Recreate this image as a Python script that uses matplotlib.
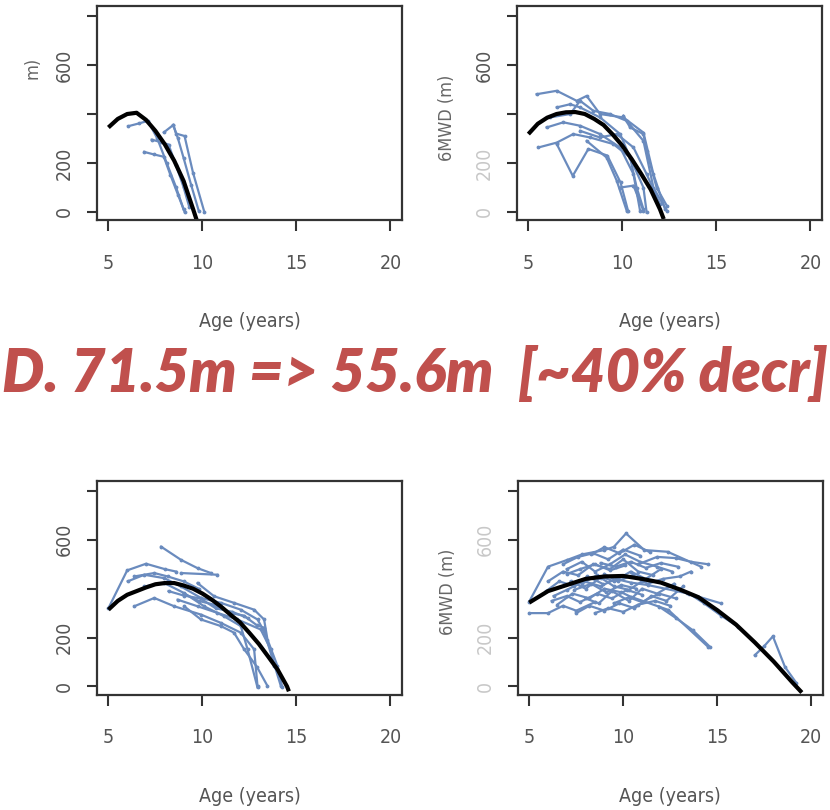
import matplotlib
matplotlib.use('Agg')
import matplotlib.pyplot as plt
from matplotlib import font_manager

# axis settings shared by the four panels
x_ticks = [5, 10, 15, 20]
y_ticks = [0, 200, 400, 600, 800]
y_tick_labels = ['0', '200', '', '600', '']
age_label = 'Age (years)'
walk_label = '6MWD (m)'
headline = 'D. 71.5m => 55.6m  [~40% decr]'

# panel A (top left): fitted curve + individual walks
fit_a_age = [5.0, 5.5, 6.0, 6.5, 7.0, 7.5, 8.0, 8.5, 9.0, 9.5, 9.7]
fit_a_val = [345, 380, 400, 405, 376, 331, 276, 209, 126, 12, -35]
walks_a = [
    ([6.05, 6.65, 7.1, 7.6, 8.1, 8.6, 9.0], [350, 362, 372, 300, 200, 100, 10]),
    ([6.9, 7.4, 7.95, 8.3, 8.7, 9.05], [245, 235, 225, 150, 70, 0]),
    ([7.3, 7.8, 8.2, 8.6, 9.0, 9.3], [295, 285, 275, 190, 100, 20]),
    ([7.95, 8.45, 8.6, 9.05, 9.5, 10.1], [325, 355, 320, 310, 160, 0]),
    ([8.45, 8.7, 9.0, 9.4, 9.8], [355, 300, 220, 110, 5]),
]

# panel B (top right)
fit_b_age = [5.0, 5.5, 6.0, 6.5, 7.0, 7.5, 8.0, 8.5, 9.0, 9.5, 10.0, 10.5, 11.0, 11.5, 12.0, 12.2]
fit_b_val = [318, 360, 385, 400, 407, 408, 400, 380, 355, 315, 270, 215, 155, 92, 10, -30]
walks_b = [
    ([5.44, 6.51, 7.57, 8.10, 8.81, 10.05, 11.12, 11.65, 12.27], [481, 495, 454, 474, 400, 386, 324, 154, 11]),
    ([5.53, 6.51, 7.39, 8.28, 9.52, 10.41, 11.12, 11.29], [263, 283, 318, 304, 277, 222, 99, -3]),
    ([6.51, 7.36, 8.19, 9.2, 9.9, 10.3], [277, 147, 257, 230, 120, 4]),
    ([5.97, 6.86, 7.75, 8.81, 9.88, 10.59, 10.94], [345, 366, 352, 318, 263, 154, 4]),
    ([6.15, 7.22, 7.75, 8.46, 9.34, 10.23, 11.12, 11.65, 12.36], [386, 400, 454, 413, 400, 372, 290, 99, 4]),
    ([7.75, 8.81, 9.70, 10.59, 11.29, 12.0], [331, 304, 318, 263, 154, 31]),
    ([8.10, 9.16, 9.70, 10.23], [290, 222, 127, 4]),
    ([10.05, 10.41, 11.12, 11.29, 11.82, 12.36], [393, 345, 318, 249, 99, 25]),
    ([9.88, 10.59, 11.12], [99, 107, 4]),
    ([6.51, 7.22, 7.75, 8.81, 9.88, 10.41, 10.76, 11.12], [427, 440, 427, 386, 318, 222, 99, 11]),
]

# panel C (bottom left)
fit_c_age = [5.0, 5.5, 6.0, 6.5, 7.0, 7.5, 8.0, 8.5, 9.0, 9.5, 10.0, 10.5, 11.0, 11.5, 12.0, 12.5, 13.0, 13.5, 14.0, 14.5, 14.6]
fit_c_val = [314, 350, 375, 390, 405, 418, 423, 423, 413, 400, 380, 355, 326, 293, 262, 219, 174, 122, 69, 0, -20]
walks_c = [
    ([5.0, 6.0, 7.0, 8.0, 8.6], [320, 475, 502, 480, 470]),
    ([6.38, 7.44, 8.5, 9.92, 10.98, 12.04, 12.75, 12.93], [328, 362, 328, 294, 260, 220, 152, 2]),
    ([7.80, 8.86, 9.74, 10.45], [572, 518, 484, 464]),
    ([8.86, 10.8], [464, 457]),
    ([6.03, 6.91, 7.97, 8.86, 9.92, 10.98, 12.04, 12.93, 13.28, 14.17], [430, 457, 443, 409, 362, 342, 314, 274, 226, 2]),
    ([6.91, 7.97, 9.03, 10.09, 11.15, 12.04, 12.4, 12.93], [409, 423, 382, 328, 287, 247, 152, -4]),
    ([9.03, 9.92, 10.98, 11.68, 12.22, 12.9, 13.46], [328, 274, 247, 220, 152, 80, 2]),
    ([9.74, 10.62, 11.68, 12.75, 13.28, 13.46, 13.99, 14.25], [423, 369, 342, 314, 274, 192, 84, -4]),
    ([8.68, 9.74, 10.8, 11.86, 13.1, 13.63, 13.81], [355, 328, 301, 274, 233, 152, 84]),
    ([6.38, 7.44, 8.15, 9.0, 9.8], [450, 464, 450, 430, 400]),
    ([9.0, 9.8, 10.6, 11.5, 12.2, 12.9, 13.3], [380, 350, 335, 300, 290, 250, 240]),
    ([8.2, 9.0, 9.9, 10.7, 11.6, 12.4], [390, 372, 360, 320, 305, 280]),
]

# panel D (bottom right)
fit_d_age = [5, 6, 7, 8, 9, 10, 11, 12, 13, 14, 15, 16, 17, 18, 19, 19.5]
fit_d_val = [343, 390, 415, 440, 450, 452, 440, 425, 397, 365, 312, 253, 180, 102, 16, -25]
walks_d = [
    ([5.0, 6.0, 7.0, 7.8, 9.0, 9.5, 10.15, 11.12, 12.36, 14.14], [347, 490, 517, 540, 558, 571, 626, 558, 551, 490]),
    ([5.0, 6.0, 6.8, 7.5, 8.5], [300, 300, 330, 310, 345]),
    ([6.0, 6.8, 7.6, 8.4, 9.3, 10.0, 10.8, 11.6], [430, 470, 455, 500, 480, 520, 470, 455]),
    ([6.3, 7.0, 7.9, 8.8, 9.6, 10.4, 11.3, 13.4, 15.2], [370, 395, 430, 410, 440, 425, 415, 381, 340]),
    ([6.5, 7.3, 8.2, 9.0, 9.9, 10.4, 12.4, 14.5], [335, 380, 360, 400, 385, 367, 313, 163]),
    ([7.0, 7.8, 8.5, 9.3, 10.1, 10.9, 11.8, 12.6], [480, 510, 470, 500, 540, 510, 490, 470]),
    ([7.5, 8.2, 9.0, 9.8, 10.6, 11.5, 12.3, 13.2], [300, 330, 310, 340, 320, 370, 350, 410]),
    ([7.8, 8.6, 9.5, 10.4, 11.2, 12.0], [420, 455, 430, 470, 440, 480]),
    ([8.0, 8.7, 9.4, 10.3, 11.0, 11.8, 12.7], [360, 340, 390, 350, 400, 380, 420]),
    ([6.8, 7.6, 8.4, 9.2, 10.0, 10.9], [500, 530, 545, 520, 560, 535]),
    ([8.3, 9.0, 9.8, 10.6, 11.4], [540, 570, 545, 580, 550]),
    ([10.8, 11.8, 12.8, 13.6, 14.5], [500, 530, 525, 510, 500]),
    ([9.0, 9.7, 10.5, 11.3, 12.1, 13.0, 13.6], [460, 430, 455, 420, 440, 450, 470]),
    ([7.2, 8.0, 8.8, 9.5, 10.3, 11.0], [430, 400, 445, 410, 395, 430]),
    ([5.9, 6.6, 7.4, 8.1, 8.9], [390, 430, 410, 450, 420]),
    ([8.5, 9.2, 10.0, 10.8, 11.7, 12.5], [300, 320, 305, 335, 350, 330]),
    ([9.5, 10.3, 11.0, 11.9, 12.8], [340, 365, 345, 380, 360]),
    ([7.0, 7.7, 8.5, 9.3, 10.1], [460, 480, 500, 475, 495]),
    ([11.9, 12.8, 13.7, 14.6], [327, 280, 230, 163]),
    ([13.5, 14.3, 15.2, 16.1], [380, 340, 290, 245]),
    ([17.0, 17.5, 17.96, 18.6, 19.2], [128, 165, 205, 80, 15]),
    ([6.2, 7.0, 7.7, 8.6, 9.4, 10.2, 11.0], [350, 370, 345, 380, 360, 395, 375]),
    ([8.8, 9.6, 10.4, 11.2, 12.0, 12.9], [505, 490, 510, 485, 505, 490]),
    ([7.4, 8.3, 9.1, 9.9, 10.7], [395, 420, 385, 415, 400]),
]

panels = [
    # left, bottom (fig fraction), fitted curve, walks, which side
    (0.117, 0.728, fit_a_age, fit_a_val, walks_a, 'left'),
    (0.623, 0.728, fit_b_age, fit_b_val, walks_b, 'right'),
    (0.117, 0.142, fit_c_age, fit_c_val, walks_c, 'left'),
    (0.624, 0.142, fit_d_age, fit_d_val, walks_d, 'right'),
]

blue = '#6A8BBE'
frame = '#333333'
label_grey = '#555555'
# R-like narrow labels
small = font_manager.FontProperties(family='DejaVu Sans', stretch='condensed', size=14)
small_lab = font_manager.FontProperties(family='DejaVu Sans', stretch='condensed', size=13)

fig = plt.figure(figsize=(8.3, 8.1), dpi=100)

for i, (left, bottom, fit_age, fit_val, walks, side) in enumerate(panels):
    ax = fig.add_axes([left, bottom, 0.367, 0.264])
    for ages, vals in walks:
        ax.plot(ages, vals, color=blue, lw=1.6, marker='.', ms=3.5)
    ax.plot(fit_age, fit_val, color='black', lw=3.0, solid_capstyle='butt')

    ax.set_xlim(4.4, 20.6)
    ax.set_ylim(-35, 840)
    ax.set_xticks(x_ticks)
    ax.set_xticklabels([str(t) for t in x_ticks], fontproperties=small, color=label_grey)
    ax.set_yticks(y_ticks)
    ax.set_yticklabels(y_tick_labels, fontproperties=small, color=label_grey,
                       rotation=90, va='center')
    ax.tick_params(axis='x', direction='out', length=8, width=1.5, color=frame, pad=16)
    ax.tick_params(axis='y', direction='out', length=7.5, width=1.5, color=frame, pad=9)
    for sp in ax.spines.values():
        sp.set_color(frame)
        sp.set_linewidth(1.6)

    if side == 'right':
        # the right panels show their y labels only faintly
        for lab in ax.get_yticklabels():
            lab.set_color('#c8c8c8')
        if i == 1:
            ax.get_yticklabels()[3].set_color(label_grey)
        ax.text(-0.23, 0.48, walk_label, transform=ax.transAxes, rotation=90,
                ha='center', va='center', fontproperties=small_lab, color='#666666')

    fig.text(left + 0.367 / 2, bottom - 0.125, age_label, ha='center', va='center',
             fontproperties=small, color=label_grey)

# fragment of the cut-off y label in the first panel
fig.text(32 / 830, 1 - 68 / 810, 'm)', rotation=90, ha='center', va='center',
         fontproperties=small_lab, color='#666666')

t = fig.text(0.003, 1 - 392 / 810, headline, ha='left', va='baseline',
             family=['Lato', 'DejaVu Sans'], fontweight='heavy', fontstyle='italic',
             fontsize=40, color='#C0504D')
fig.canvas.draw()
w = t.get_window_extent().width
t.set_fontsize(40 * 825 / w)

fig.savefig('out.png', dpi=100)
